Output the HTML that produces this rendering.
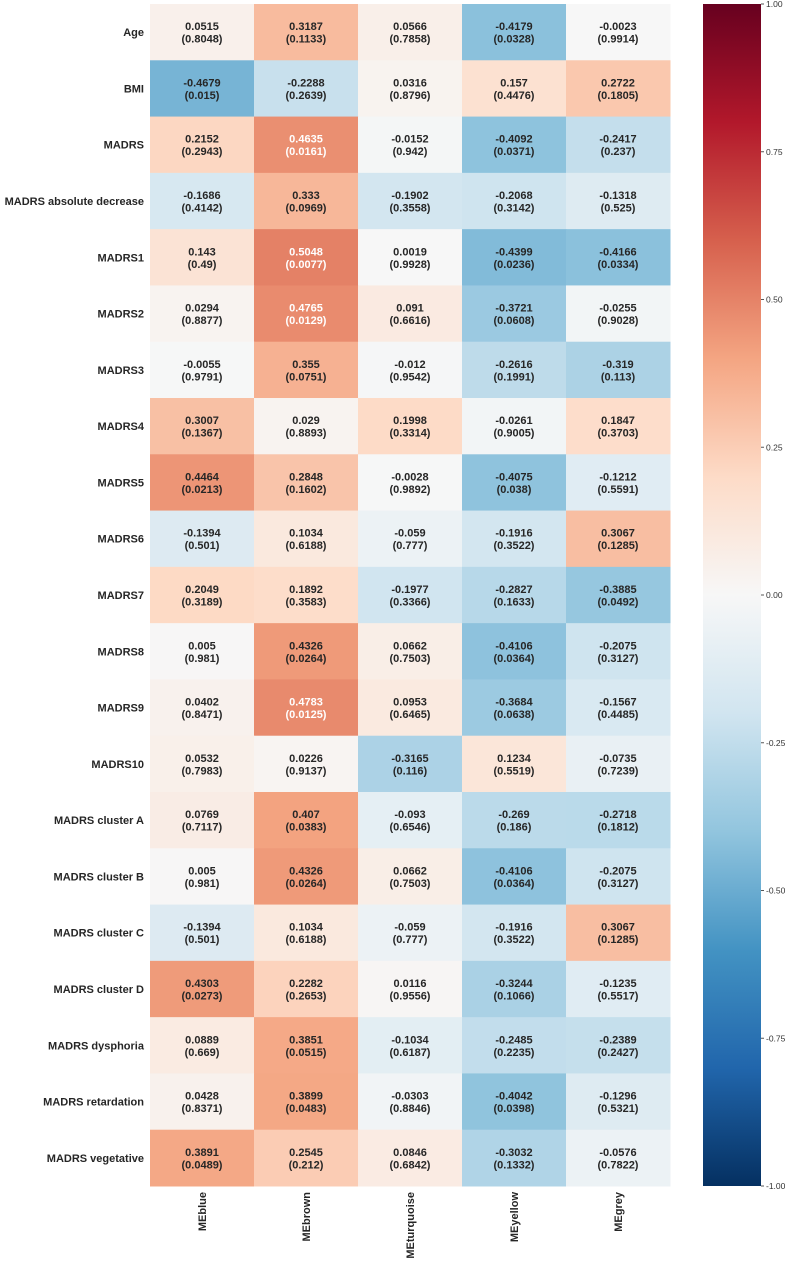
<!DOCTYPE html>
<html><head><meta charset="utf-8"><style>
body{margin:0;background:#fff;}
svg text{font-family:"Liberation Sans",Arial,sans-serif;}
</style></head><body>
<svg id="chart" width="791" height="1261" xmlns="http://www.w3.org/2000/svg"></svg>
<script>
const rowLabels=["Age","BMI","MADRS","MADRS absolute decrease","MADRS1","MADRS2","MADRS3","MADRS4","MADRS5","MADRS6","MADRS7","MADRS8","MADRS9","MADRS10","MADRS cluster A","MADRS cluster B","MADRS cluster C","MADRS cluster D","MADRS dysphoria","MADRS retardation","MADRS vegetative"];
const colLabels=["MEblue","MEbrown","MEturquoise","MEyellow","MEgrey"];
const corr=[
[0.0515,0.3187,0.0566,-0.4179,-0.0023],
[-0.4679,-0.2288,0.0316,0.157,0.2722],
[0.2152,0.4635,-0.0152,-0.4092,-0.2417],
[-0.1686,0.333,-0.1902,-0.2068,-0.1318],
[0.143,0.5048,0.0019,-0.4399,-0.4166],
[0.0294,0.4765,0.091,-0.3721,-0.0255],
[-0.0055,0.355,-0.012,-0.2616,-0.319],
[0.3007,0.029,0.1998,-0.0261,0.1847],
[0.4464,0.2848,-0.0028,-0.4075,-0.1212],
[-0.1394,0.1034,-0.059,-0.1916,0.3067],
[0.2049,0.1892,-0.1977,-0.2827,-0.3885],
[0.005,0.4326,0.0662,-0.4106,-0.2075],
[0.0402,0.4783,0.0953,-0.3684,-0.1567],
[0.0532,0.0226,-0.3165,0.1234,-0.0735],
[0.0769,0.407,-0.093,-0.269,-0.2718],
[0.005,0.4326,0.0662,-0.4106,-0.2075],
[-0.1394,0.1034,-0.059,-0.1916,0.3067],
[0.4303,0.2282,0.0116,-0.3244,-0.1235],
[0.0889,0.3851,-0.1034,-0.2485,-0.2389],
[0.0428,0.3899,-0.0303,-0.4042,-0.1296],
[0.3891,0.2545,0.0846,-0.3032,-0.0576]];
const pvals=[
["0.8048","0.1133","0.7858","0.0328","0.9914"],
["0.015","0.2639","0.8796","0.4476","0.1805"],
["0.2943","0.0161","0.942","0.0371","0.237"],
["0.4142","0.0969","0.3558","0.3142","0.525"],
["0.49","0.0077","0.9928","0.0236","0.0334"],
["0.8877","0.0129","0.6616","0.0608","0.9028"],
["0.9791","0.0751","0.9542","0.1991","0.113"],
["0.1367","0.8893","0.3314","0.9005","0.3703"],
["0.0213","0.1602","0.9892","0.038","0.5591"],
["0.501","0.6188","0.777","0.3522","0.1285"],
["0.3189","0.3583","0.3366","0.1633","0.0492"],
["0.981","0.0264","0.7503","0.0364","0.3127"],
["0.8471","0.0125","0.6465","0.0638","0.4485"],
["0.7983","0.9137","0.116","0.5519","0.7239"],
["0.7117","0.0383","0.6546","0.186","0.1812"],
["0.981","0.0264","0.7503","0.0364","0.3127"],
["0.501","0.6188","0.777","0.3522","0.1285"],
["0.0273","0.2653","0.9556","0.1066","0.5517"],
["0.669","0.0515","0.6187","0.2235","0.2427"],
["0.8371","0.0483","0.8846","0.0398","0.5321"],
["0.0489","0.212","0.6842","0.1332","0.7822"]];
const cbTicks=[1,0.75,0.5,0.25,0,-0.25,-0.5,-0.75,-1];

const stops=["#053061","#2166ac","#4393c3","#92c5de","#d1e5f0","#f7f7f7","#fddbc7","#f4a582","#d6604d","#b2182b","#67001f"].map(h=>[1,3,5].map(i=>parseInt(h.substr(i,2),16)));
function cmap(v){let t=(v+1)/2*10;t=Math.max(0,Math.min(10,t));const i=Math.min(9,Math.floor(t)),f=t-i;return stops[i].map((c,k)=>Math.round(c+(stops[i+1][k]-c)*f));}
function lum(c){const l=c.map(x=>{x/=255;return x<=0.03928?x/12.92:Math.pow((x+0.055)/1.055,2.4);});return 0.2126*l[0]+0.7152*l[1]+0.0722*l[2];}
const svg=document.getElementById('chart');const NS="http://www.w3.org/2000/svg";
function mk(tag,attrs,txt){const e=document.createElementNS(NS,tag);for(const k in attrs)e.setAttribute(k,attrs[k]);if(txt!==undefined)e.textContent=txt;svg.appendChild(e);return e;}
const X0=150,Y0=4,CW=104,RH=(1186-4)/21;
const xS=j=>X0+j*CW, yS=i=>Y0+i*RH;
corr.forEach((row,i)=>row.forEach((v,j)=>{
 const c=cmap(v);
 const r=mk('rect',{x:xS(j),y:yS(i),width:CW+0.5,height:RH+0.5,fill:`rgb(${c})`});
 
 
 const col=lum(c)>0.408?'#262626':'#ffffff';
 const t=mk('text',{x:xS(j)+CW/2,y:yS(i)+RH/2-2,'text-anchor':'middle','font-size':11,'font-weight':'bold',fill:col});
 
 
 const a=document.createElementNS(NS,'tspan');a.setAttribute('x',xS(j)+CW/2);a.textContent=String(v);t.appendChild(a);
 const b=document.createElementNS(NS,'tspan');b.setAttribute('x',xS(j)+CW/2);b.setAttribute('dy',12.5);b.textContent='('+pvals[i][j]+')';t.appendChild(b);
}));
rowLabels.forEach((l,i)=>{const t=mk('text',{x:144,y:yS(i)+RH/2+4,'text-anchor':'end','font-size':11,'font-weight':'bold',fill:'#262626'},l);
 
 });
colLabels.forEach((l,j)=>{const cx=xS(j)+CW/2+4;const t=mk('text',{x:cx,y:1192,'text-anchor':'end','font-size':11,'font-weight':'bold',fill:'#262626',transform:`rotate(-90 ${cx} 1192)`},l);
 
 });
const CBX=703,CBW=58,CBT=4,CBB=1186;
const defs=document.createElementNS(NS,'defs');svg.appendChild(defs);
const g=document.createElementNS(NS,'linearGradient');g.setAttribute('id','cbg');g.setAttribute('x1',0);g.setAttribute('y1',1);g.setAttribute('x2',0);g.setAttribute('y2',0);defs.appendChild(g);
stops.forEach((s,k)=>{const st=document.createElementNS(NS,'stop');st.setAttribute('offset',k/10);st.setAttribute('stop-color',`rgb(${s})`);g.appendChild(st);});
const cb=mk('rect',{x:CBX,y:CBT,width:CBW,height:CBB-CBT,fill:'url(#cbg)'});


const cy=v=>CBB-(v+1)/2*(CBB-CBT);
cbTicks.forEach(v=>{mk('line',{x1:CBX+CBW,x2:CBX+CBW+3,y1:cy(v),y2:cy(v),stroke:'#555','stroke-width':1});
 const t=mk('text',{x:CBX+CBW+5,y:cy(v)+3,'font-size':8.5,fill:'#333'},v.toFixed(2));
 
 });
</script>
</body></html>
